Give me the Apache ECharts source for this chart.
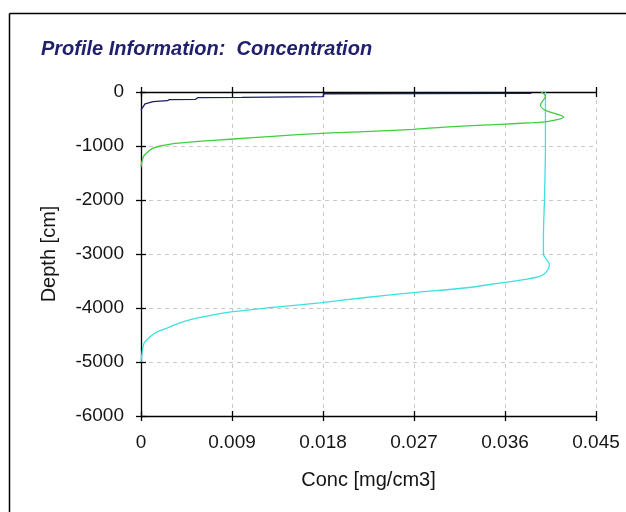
<!DOCTYPE html>
<html>
<head>
<meta charset="utf-8">
<script src="https://cdn.jsdelivr.net/npm/echarts@6/dist/echarts.min.js"></script>
<style>
html,body{margin:0;padding:0;background:#fff;}
#chart{width:626px;height:512px;}
</style>
</head>
<body>
<div id="chart"></div>
<script>
var titleText = 'Profile Information:  Concentration';
var xName = 'Conc [mg/cm3]';
var yName = 'Depth [cm]';
var xTicks = [0, 0.009, 0.018, 0.027, 0.036, 0.045];
var yTicks = [0, -1000, -2000, -3000, -4000, -5000, -6000];

var navyConc  = [0.0386, 0.0270, 0.0181, 0.0180, 0.0100, 0.0056, 0.0054, 0.0028, 0.0026, 0.0012, 0.0004, 0.0001, 0.0000];
var navyDepth = [-25, -28, -32, -85, -100, -106, -135, -140, -161, -180, -222, -302, -340];

var greenConc  = [0.0396, 0.0400, 0.0395, 0.0399, 0.0418, 0.0401, 0.0388, 0.0355, 0.0300, 0.0269, 0.0220, 0.0179, 0.0130, 0.0091, 0.0060, 0.0042, 0.0028, 0.0019, 0.0012, 0.0007, 0.0003, 0.0001, 0.0000];
var greenDepth = [0, -80, -240, -330, -467, -550, -568, -598, -650, -691, -735, -765, -820, -870, -910, -939, -968, -1000, -1040, -1105, -1180, -1280, -1390];

var cyanConc  = [0.0400, 0.0400, 0.0399, 0.0398, 0.0398, 0.0404, 0.0401, 0.0395, 0.0380, 0.0358, 0.0320, 0.0269, 0.0220, 0.0179, 0.0130, 0.0091, 0.0065, 0.0048, 0.0035, 0.0025, 0.0015, 0.0009, 0.0003, 0.0001, 0.0000];
var cyanDepth = [0, -1000, -2000, -2700, -3000, -3200, -3330, -3410, -3470, -3530, -3630, -3716, -3810, -3900, -3990, -4068, -4150, -4222, -4300, -4376, -4450, -4531, -4654, -4840, -5000];

function pairs(xs, ys){ return xs.map(function(x,i){ return [x, ys[i]]; }); }

var FONT = '"Liberation Sans", Arial, sans-serif';
var TXT = '#151515';
var xMin = xTicks[0], xMax = xTicks[xTicks.length-1], xInt = xTicks[1]-xTicks[0];
var yMin = yTicks[yTicks.length-1], yMax = yTicks[0], yInt = yTicks[0]-yTicks[1];

function xAx(pos, inside, main){
  return {
    type:'value', position:pos, min:xMin, max:xMax, interval:xInt,
    axisLine:{show:main, onZero:false, lineStyle:{color:'#000', width:1.3}},
    axisTick:{show:true, inside:inside, length:5, lineStyle:{color:'#000', width:1.3}},
    axisLabel:{show: main && pos==='bottom', margin:17, color:TXT, fontSize:19, fontFamily:FONT,
      formatter:function(v){ return String(+v.toFixed(3)); }},
    splitLine:{show: main && pos==='bottom', lineStyle:{color:'#c8c8c8', type:[4,4], width:1}},
    name: (main && pos==='bottom') ? xName : '',
    nameLocation:'middle', nameGap:54,
    nameTextStyle:{color:TXT, fontSize:20, fontFamily:FONT}
  };
}
function yAx(inside, main){
  return {
    type:'value', position:'left', min:yMin, max:yMax, interval:yInt,
    axisLine:{show:main, onZero:false, lineStyle:{color:'#000', width:1.3}},
    axisTick:{show:true, inside:inside, length:5, lineStyle:{color:'#000', width:1.3}},
    axisLabel:{show:main, margin:17, color:TXT, fontSize:19, fontFamily:FONT,
      formatter:function(v){ return String(v); }},
    splitLine:{show:main, lineStyle:{color:'#c8c8c8', type:[4,4], width:1}},
    name: main ? yName : '',
    nameLocation:'middle', nameGap:82,
    nameTextStyle:{color:TXT, fontSize:20, fontFamily:FONT}
  };
}

var chart = echarts.init(document.getElementById('chart'), null, {renderer:'canvas'});
chart.setOption({
  animation:false,
  backgroundColor:'#fff',
  title:{text:titleText, left:36, top:34,
    textStyle:{color:'#1f1f6b', fontSize:20, fontWeight:'bold', fontStyle:'italic', fontFamily:FONT}},
  graphic:[
    {type:'line', shape:{x1:9.5, y1:13.5, x2:626, y2:13.5}, style:{stroke:'#000', lineWidth:1.5}},
    {type:'line', shape:{x1:9.5, y1:13.5, x2:9.5, y2:512}, style:{stroke:'#000', lineWidth:1.5}}
  ],
  grid:{left:141, right:30, top:92, bottom:96, containLabel:false},
  xAxis:[xAx('bottom', false, true), xAx('bottom', true, false), xAx('top', false, true), xAx('top', true, false)],
  yAxis:[yAx(false, true), yAx(true, false)],
  series:[
    {type:'line', xAxisIndex:0, yAxisIndex:0, data:pairs(cyanConc, cyanDepth), showSymbol:false, smooth:0.3,
      lineStyle:{color:'#3fe0e0', width:1.3}, z:2},
    {type:'line', xAxisIndex:0, yAxisIndex:0, data:pairs(greenConc, greenDepth), showSymbol:false, smooth:0.3,
      lineStyle:{color:'#3fcf3f', width:1.3}, z:3},
    {type:'line', xAxisIndex:0, yAxisIndex:0, data:pairs(navyConc, navyDepth), showSymbol:false, smooth:false,
      lineStyle:{color:'#1c1c74', width:1.3}, z:4}
  ]
});
</script>
</body>
</html>
